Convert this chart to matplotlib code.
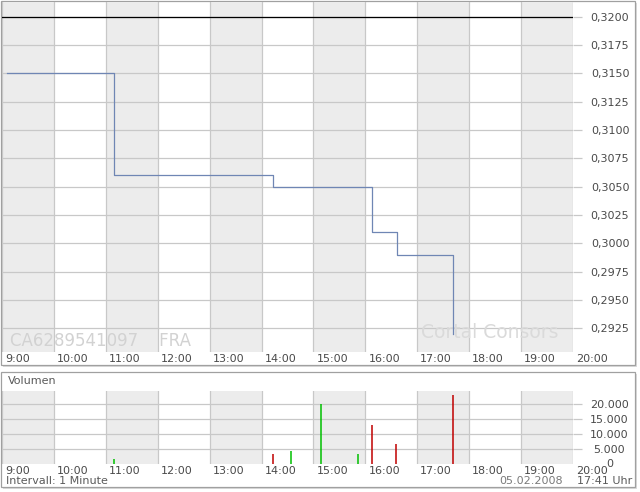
import matplotlib
matplotlib.use('Agg')
import matplotlib.pyplot as plt
from matplotlib.patches import Rectangle
import matplotlib.transforms as mtransforms

# ---------------- data ----------------
hours = [9, 10, 11, 12, 13, 14, 15, 16, 17, 18, 19, 20]
hour_labels = ["9:00", "10:00", "11:00", "12:00", "13:00", "14:00",
               "15:00", "16:00", "17:00", "18:00", "19:00", "20:00"]
shaded_hours = [9, 11, 13, 15, 17, 19]

price_times = ["09:06", "11:09", "14:13", "16:08", "16:36", "17:41"]
price_values = [0.3150, 0.3060, 0.3050, 0.3010, 0.2990, 0.2920]
prev_close = 0.3200
price_ticks = [0.2925, 0.2950, 0.2975, 0.3000, 0.3025, 0.3050,
               0.3075, 0.3100, 0.3125, 0.3150, 0.3175, 0.3200]
price_tick_labels = ["0,2925", "0,2950", "0,2975", "0,3000", "0,3025", "0,3050",
                     "0,3075", "0,3100", "0,3125", "0,3150", "0,3175", "0,3200"]

vol_times = ["11:09", "14:13", "14:34", "15:09", "15:51", "16:08", "16:35", "17:41"]
vol_values = [1500, 3200, 4300, 20000, 3200, 13000, 6600, 23000]
vol_dir = ["up", "down", "up", "up", "up", "down", "down", "down"]
vol_ticks = [5000, 10000, 15000, 20000]
vol_tick_labels = ["5.000", "10.000", "15.000", "20.000"]
vol_zero_label = "0"

isin_text = "CA6289541097    FRA"
brand_text = "Cortal Consors"
interval_text = "Intervall: 1 Minute"
date_text = "05.02.2008"
time_text = "17:41 Uhr"
vol_title = "Volumen"

# ---------------- helpers ----------------
W, H = 640, 492


def to_h(t):
    h, m = t.split(":")
    return int(h) + int(m) / 60.0


def fx(x):
    return x / W


def fy(y):
    return 1 - y / H


GRID = "#c8c8c8"
SHADE = "#ececec"
TXT = "#4a4a4a"
FS = 8

fig = plt.figure(figsize=(6.4, 4.92), dpi=100)
fig.patch.set_facecolor("white")

# panel frames with shadow
for (x0, y0, x1, y1) in [(0.5, 0.5, 634.5, 364.5), (0.5, 371.5, 634.5, 486.5)]:
    fig.patches.append(Rectangle((fx(x0 + 2.5), fy(y1 + 2.5)), (x1 - x0) / W, (y1 - y0) / H,
                                 transform=fig.transFigure, facecolor="#dcdcdc",
                                 edgecolor="none", zorder=-3))
    fig.patches.append(Rectangle((fx(x0), fy(y1)), (x1 - x0) / W, (y1 - y0) / H,
                                 transform=fig.transFigure, facecolor="white",
                                 edgecolor="#a0a0a0", linewidth=0.9, zorder=-2))


def style_axes(ax, ylim, yticks, ylabels, label_center_px):
    ax.patch.set_alpha(0)
    ax.set_xlim(9, 20)
    ax.set_ylim(*ylim)
    for s in ax.spines.values():
        s.set_visible(False)
    for h in shaded_hours:
        ax.axvspan(h, h + 1, color=SHADE, zorder=0.1, lw=0)
    ax.set_axisbelow(True)
    ax.grid(True, color=GRID, linewidth=0.9)
    ax.set_xticks(hours)
    ax.set_xticklabels(hour_labels, fontsize=FS, color=TXT, ha="left")
    ax.tick_params(axis="x", length=0, pad=1.5)
    offset = mtransforms.ScaledTranslation(3 / 100, 0, fig.dpi_scale_trans)
    for lab in ax.get_xticklabels():
        lab.set_transform(lab.get_transform() + offset)
    ax.yaxis.tick_right()
    ax.set_yticks(yticks)
    ax.set_yticklabels(ylabels, fontsize=FS, color=TXT, ha="center")
    ax.tick_params(axis="y", length=6.5, width=0.9, color=GRID,
                   pad=(label_center_px - 573) * 0.72 - 6.5)


# ---------------- price panel ----------------
ax1 = fig.add_axes([fx(2), fy(352), (573 - 2) / W, (352 - 1.5) / H])
style_axes(ax1, (0.29041, 0.321343), price_ticks, price_tick_labels, 610)
ax1.axhline(prev_close, color="black", linewidth=0.9, zorder=3)
ax1.yaxis.get_major_ticks()[-1].tick2line.set_color("black")
ax1.plot([to_h(t) for t in price_times], price_values, drawstyle="steps-post",
         color="#6f86b4", linewidth=0.9, zorder=4)
ax1.text(fx(10), fy(341), isin_text, transform=fig.transFigure, fontsize=12,
         color="#d2d2d2", va="center", ha="left", zorder=2)
ax1.text(fx(421), fy(332), brand_text, transform=fig.transFigure, fontsize=13.5,
         color="#dadada", va="center", ha="left", zorder=2)

# ---------------- volume panel ----------------
ax2 = fig.add_axes([fx(2), fy(463.6), (573 - 2) / W, (463.6 - 391) / H])
style_axes(ax2, (0, 24360), vol_ticks, vol_tick_labels, 609.5)
vol_colors = ["#00c000" if d == "up" else "#c00000" for d in vol_dir]
ax2.vlines([to_h(t) for t in vol_times], 0, vol_values, colors=vol_colors,
           linewidth=1.1, zorder=4)
zero_tr = mtransforms.blended_transform_factory(fig.transFigure, ax2.transData)
ax2.text(fx(609.5), 0, vol_zero_label, transform=zero_tr, fontsize=FS, color=TXT,
         ha="center", va="center", clip_on=False)

fig.text(fx(8), fy(381), vol_title, fontsize=FS, color="#5a5a5a", va="center", ha="left")
fig.text(fx(6), fy(480.5), interval_text, fontsize=FS, color="#5a5a5a", va="center", ha="left")
fig.text(fx(563), fy(480.5), date_text, fontsize=FS, color="#7a7a7a", va="center", ha="right")
fig.text(fx(632), fy(480.5), time_text, fontsize=FS, color="#5a5a5a", va="center", ha="right")

fig.savefig("out.png", dpi=100)
